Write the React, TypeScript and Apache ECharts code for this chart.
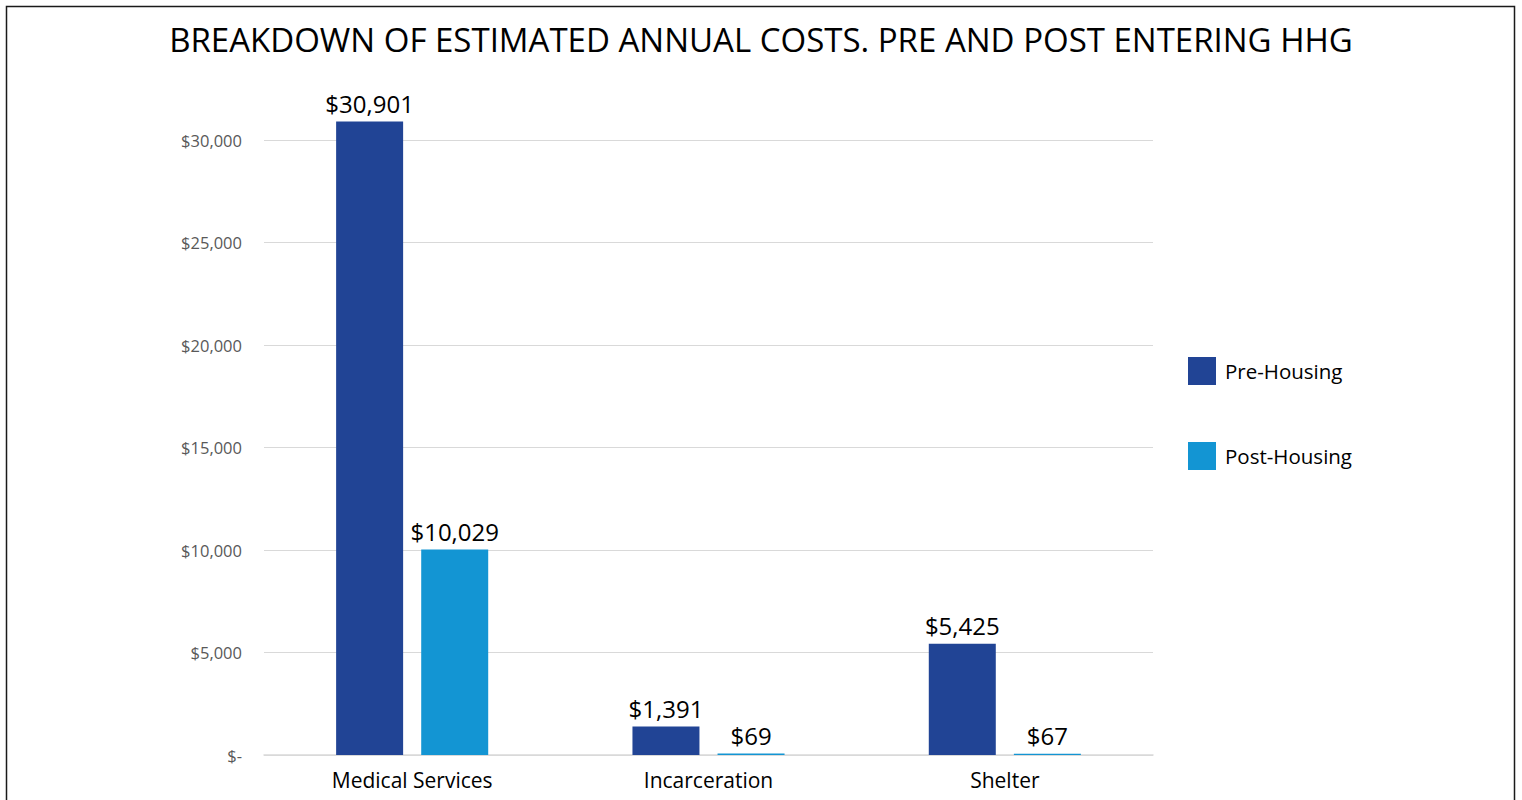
import React, { useEffect, useRef } from "react";
import * as echarts from "echarts";

const categories = ["Medical Services", "Incarceration", "Shelter"];
const preHousing = [30901, 1391, 5425];
const postHousing = [10029, 69, 67];
const seriesNames = ["Pre-Housing", "Post-Housing"];
const titleText = "BREAKDOWN OF ESTIMATED ANNUAL COSTS. PRE AND POST ENTERING HHG";

const FONT = "'Open Sans', sans-serif";

const money = (v: number) => "$" + v.toLocaleString("en-US");

export default function App() {
  const ref = useRef<HTMLDivElement>(null);
  useEffect(() => {
    if (!ref.current) return;
    const chart = echarts.init(ref.current, null, { renderer: "svg" });
    const labelCfg = {
      show: true,
      position: "top",
      distance: 6,
      fontFamily: FONT,
      fontSize: 24,
      color: "#000000",
      formatter: (p: any) => money(p.value),
    };
    chart.setOption({
      animation: false,
      backgroundColor: "#ffffff",
      textStyle: { fontFamily: FONT },
      title: {
        text: titleText,
        left: "center",
        top: 18,
        itemGap: 0,
        textStyle: { fontFamily: FONT, fontSize: 33, fontWeight: "normal", color: "#000000" },
      },
      graphic: [
        {
          type: "rect",
          shape: { x: 6.5, y: 6.5, width: 1508, height: 820 },
          style: { fill: "none", stroke: "#1a1a1a", lineWidth: 1.5 },
          silent: true,
        },
      ],
      legend: {
        orient: "vertical",
        left: 1183,
        top: 352,
        itemWidth: 28,
        itemHeight: 28,
        itemGap: 57,
        icon: "rect",
        data: seriesNames,
        textStyle: { fontFamily: FONT, fontSize: 20.5, color: "#000000", padding: [4, 0, 0, 4] },
      },
      grid: { left: 264, right: 369, top: 140, bottom: 45, containLabel: false },
      xAxis: {
        type: "category",
        data: categories,
        axisLine: { lineStyle: { color: "#d9d9d9", width: 1.5 } },
        axisTick: { show: false },
        axisLabel: { fontFamily: FONT, fontSize: 21, color: "#000000", margin: 14 },
      },
      yAxis: {
        type: "value",
        min: 0,
        max: 30000,
        interval: 5000,
        axisLine: { show: false },
        axisTick: { show: false },
        splitLine: { lineStyle: { color: "#d9d9d9", width: 1 } },
        axisLabel: {
          fontFamily: FONT,
          fontSize: 16.5,
          color: "#595959",
          margin: 22,
          formatter: (v: number) => (v === 0 ? "$-" : money(v)),
        },
      },
      series: [
        {
          name: seriesNames[0],
          type: "bar",
          data: preHousing,
          barWidth: 67,
          barGap: "27%",
          clip: false,
          itemStyle: { color: "#214495" },
          label: labelCfg,
        },
        {
          name: seriesNames[1],
          type: "bar",
          data: postHousing,
          barWidth: 67,
          clip: false,
          itemStyle: { color: "#1395d3" },
          label: labelCfg,
        },
      ],
    });
    return () => chart.dispose();
  }, []);
  return (
    <div
      ref={ref}
      style={{ position: "absolute", left: 0, top: 0, width: 1522, height: 800 }}
    />
  );
}
